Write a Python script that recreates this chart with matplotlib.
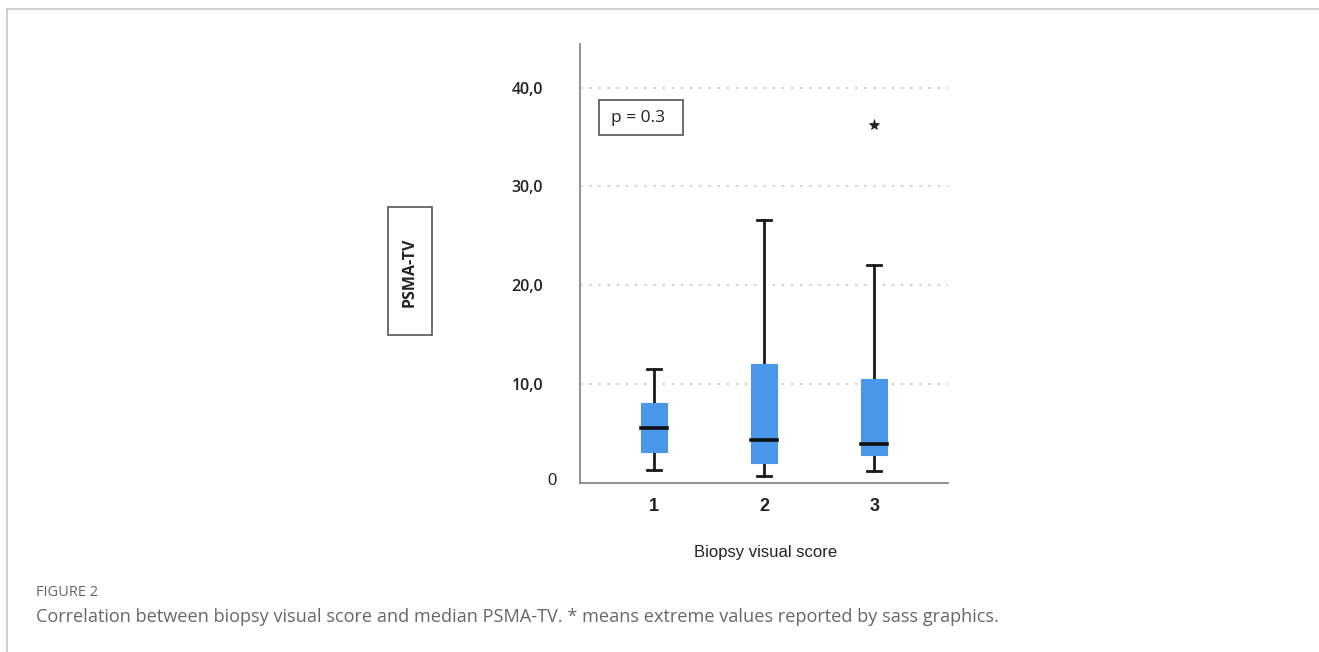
import matplotlib
matplotlib.use("Agg")
import matplotlib.pyplot as plt
from matplotlib.patches import Rectangle
from matplotlib.lines import Line2D
import matplotlib.transforms as mtransforms

# ---- data ----
categories = ["1", "2", "3"]
whisker_low = [1.35, 0.7, 1.2]
q1 = [3.1, 2.0, 2.85]
median = [5.6, 4.3, 3.9]
q3 = [8.1, 12.0, 10.5]
whisker_high = [11.5, 26.6, 22.0]
extreme_x = [3]
extreme_y = [36.2]
y_ticks = [0, 10, 20, 30, 40]
y_ticklabels = ["0", "10,0", "20,0", "30,0", "40,0"]

W, H = 1319, 652
fig = plt.figure(figsize=(W / 100, H / 100), dpi=100)

def fx(px):
    return px / W

def fy(py):
    return 1 - py / H

# axes: left 580, right 948, top 44, bottom 483
ax = fig.add_axes([fx(580), fy(483), fx(948) - fx(580), fy(44) - fy(483)])
ax.set_xlim(0.327, 3.67)
ax.set_ylim(0, 44.4)

for s in ["top", "right"]:
    ax.spines[s].set_visible(False)
ax.spines["left"].set_color("#8a8a8a")
ax.spines["bottom"].set_color("#8a8a8a")
ax.spines["left"].set_linewidth(1.3)
ax.spines["bottom"].set_linewidth(1.3)

for g in y_ticks[1:]:
    ax.axhline(g, color="#c8c8c8", lw=1.2, ls=(0, (1.5, 4.0)), zorder=0)

box_color = "#4a96e8"
bw = 0.24
cap = 0.125
positions = [1, 2, 3]
for i, x in enumerate(positions):
    ax.add_patch(Rectangle((x - bw / 2, q1[i]), bw, q3[i] - q1[i],
                           facecolor=box_color, edgecolor=box_color, lw=0.8, zorder=3))
    ax.plot([x, x], [q3[i], whisker_high[i]], color="#1a1a1a", lw=2.0, zorder=2)
    ax.plot([x, x], [whisker_low[i], q1[i]], color="#1a1a1a", lw=2.0, zorder=2)
    ax.plot([x - cap / 2, x + cap / 2], [whisker_high[i]] * 2, color="#1a1a1a", lw=2.0, zorder=2)
    ax.plot([x - cap / 2, x + cap / 2], [whisker_low[i]] * 2, color="#1a1a1a", lw=2.0, zorder=2)
    ax.plot([x - bw / 2, x + bw / 2], [median[i]] * 2, color="#111111", lw=2.6, zorder=4)

ax.plot(extreme_x, extreme_y, ls="none", marker="*", markersize=8, color="#222222",
        markeredgewidth=0.5)

ax.set_xticks(positions)
ax.set_xticklabels(categories, fontsize=13, fontweight="bold", color="#222222",
                   fontfamily="Liberation Sans")
ax.tick_params(axis="x", length=0, pad=11)

ax.set_yticks(y_ticks)
ax.set_yticklabels(y_ticklabels, fontsize=11.5, fontweight="semibold", color="#222222",
                   fontfamily="Open Sans")
ax.tick_params(axis="y", length=0, pad=26.6)
lbls = ax.get_yticklabels()
lbls[0].set_fontfamily("Liberation Sans")
lbls[0].set_fontweight("normal")
lbls[0].set_fontsize(12)
lbls[0].set_transform(lbls[0].get_transform() +
                      mtransforms.ScaledTranslation(14 / 100, 4 / 100, fig.dpi_scale_trans))

# p-value box
fig.patches.append(Rectangle((fx(599), fy(135)), fx(683) - fx(599), fy(100) - fy(135),
                             transform=fig.transFigure, facecolor="white",
                             edgecolor="#555555", lw=1.2, zorder=5))
fig.text(fx(611), fy(118), "p = 0.3", fontsize=12.5, color="#222222",
         fontfamily="Open Sans", va="center", ha="left", zorder=6)

# y label box
fig.patches.append(Rectangle((fx(388), fy(335)), fx(432) - fx(388), fy(207) - fy(335),
                             transform=fig.transFigure, facecolor="white",
                             edgecolor="#555555", lw=1.2))
fig.text(fx(410), fy(272), "PSMA-TV", rotation=90, fontsize=11.5, fontweight="bold",
         color="#222222", fontfamily="Open Sans", va="center", ha="center")

# x label
fig.text(fx(766), fy(552), "Biopsy visual score", fontsize=12, color="#222222",
         fontfamily="Liberation Sans", va="center", ha="center")

# frame lines
fig.add_artist(Line2D([fx(6.5), 1], [fy(9), fy(9)], transform=fig.transFigure,
                      color="#c8c8c8", lw=1.2))
fig.add_artist(Line2D([fx(6.5), fx(6.5)], [fy(9), 0], transform=fig.transFigure,
                      color="#c8c8c8", lw=1.2))

# caption
fig.text(fx(36), fy(593), "FIGURE 2", fontsize=10.5, color="#666666",
         fontfamily="Open Sans", va="center", ha="left")
fig.text(fx(36), fy(617),
         "Correlation between biopsy visual score and median PSMA-TV. * means extreme values reported by sass graphics.",
         fontsize=13.1, color="#666666", fontfamily="Open Sans", va="center", ha="left")

fig.savefig("out.png", dpi=100)
